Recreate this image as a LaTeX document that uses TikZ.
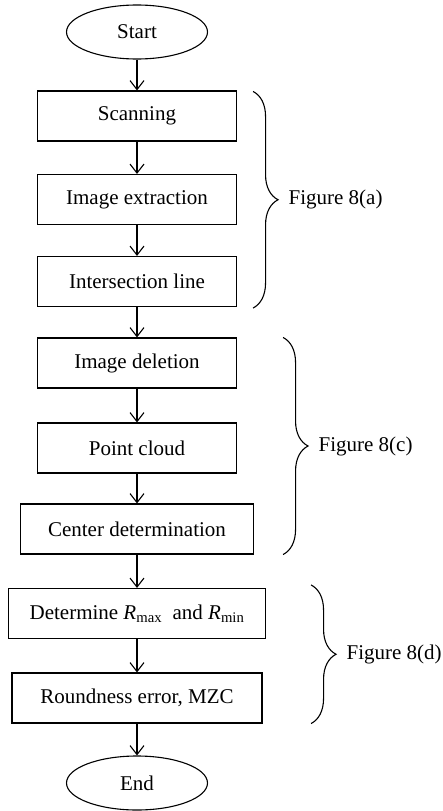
\documentclass[tikz,border=0pt]{standalone}
\usepackage{fontspec}
\setmainfont{Liberation Serif}
\usetikzlibrary{shapes.geometric, arrows.meta, decorations.pathreplacing, calc}

\begin{document}
\begin{tikzpicture}[x=1pt, y=-1pt,
    box/.style={rectangle, draw, line width=1.1pt, minimum height=50pt, inner sep=0pt, font=\fontsize{21}{25}\selectfont},
    term/.style={ellipse, draw, line width=1.1pt, minimum width=141pt, minimum height=54pt, inner sep=0pt, font=\fontsize{21}{25}\selectfont},
    arrow/.style={-{Straight Barb[length=9pt, width=14pt]}, line width=1.1pt},
    grp/.style={decorate, decoration={brace, amplitude=25pt}, line width=1.1pt},
    tag/.style={midway, anchor=west, xshift=35pt, inner sep=0pt, font=\fontsize{21}{25}\selectfont},
]
\useasboundingbox (0,0) rectangle (442,811);

% Start
\node[term] (start) at (137,32) {Start};

% Steps
\node[box, minimum width=199pt] (scan) at (137,116) {Scanning};
\node[box, minimum width=199pt] (extr) at (137,199.5) {Image extraction};
\node[box, minimum width=199pt] (isec) at (137,281.5) {Intersection line};
\node[box, minimum width=199pt] (idel) at (137,363) {Image deletion};
\node[box, minimum width=199pt] (pcld) at (137,448) {Point cloud};
\node[box, minimum width=233pt] (cdet) at (137,529) {Center determination};
\node[box, minimum width=257pt] (rdet) at (137,613.5) {Determine \textit{R}\textsubscript{max}\hspace{0.25em} and \textit{R}\textsubscript{min}};
\node[box, minimum width=250pt] (merr) at (137,698) {Roundness error, MZC};

% End
\node[term] (end) at (137,783) {End};

% Flow
\draw[arrow] (start) -- (scan);
\draw[arrow] (scan) -- (extr);
\draw[arrow] (extr) -- (isec);
\draw[arrow] (isec) -- (idel);
\draw[arrow] (idel) -- (pcld);
\draw[arrow] (pcld) -- (cdet);
\draw[arrow] (cdet) -- (rdet);
\draw[arrow] (rdet) -- (merr);
\draw[arrow] (merr) -- (end);

% Groups
\draw[grp] ($(scan.north east)+(16,1)$) -- ($(isec.south east)+(16,1)$) node[tag] {Figure 8(a)};
\draw[grp] ($(idel.north east)+(46,0)$) -- ($(idel.east |- cdet.south)+(46,0)$) node[tag] {Figure 8(c)};
\draw[grp] ($(rdet.north east)+(45,-3)$) -- ($(rdet.east |- merr.south)+(45,0)$) node[tag] {Figure 8(d)};
\end{tikzpicture}
\end{document}
